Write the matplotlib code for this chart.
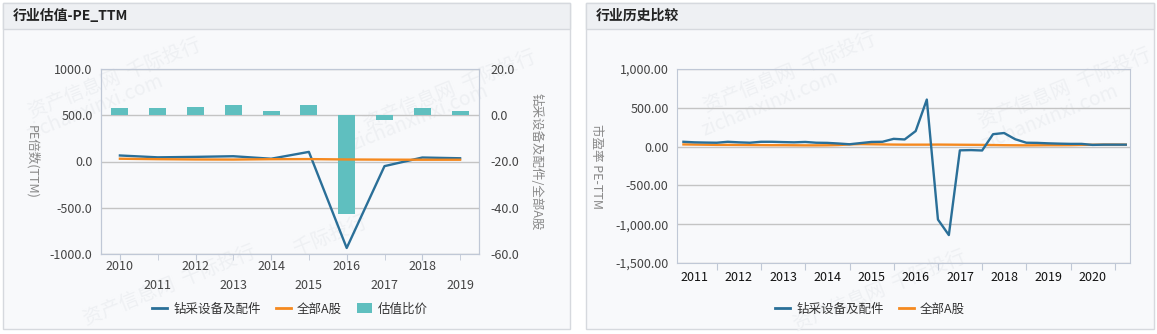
import numpy as np
import pandas as pd
import matplotlib
matplotlib.use("Agg")
import matplotlib.pyplot as plt
import matplotlib.dates as mdates
from matplotlib.patches import Rectangle
from matplotlib.lines import Line2D
from matplotlib.ticker import FuncFormatter

plt.rcParams['font.family'] = ['Noto Sans CJK SC', 'DejaVu Sans']

# 行业估值 (annual)
years = ["2010", "2011", "2012", "2013", "2014", "2015", "2016", "2017", "2018", "2019"]
pe_industry = [65, 45, 50, 57, 30, 104, -935, -50, 43, 35]
pe_all_a = [30, 25, 22, 21, 25, 26, 22, 20, 19, 19]
pe_ratio = [3.0, 3.0, 3.4, 4.3, 1.8, 4.3, -42.8, -2.2, 3.0, 1.8]

# 行业历史比较 (quarterly, 2011Q1 - 2021Q1)
quarters = pd.period_range("2011Q1", "2021Q1", freq="Q").to_timestamp(how="end").normalize()
hist_industry = [62, 55, 52, 50, 62, 55, 50, 62, 62, 58, 55, 60, 50, 48, 40, 30,
                 45, 60, 62, 100, 92, 200, 606, -940, -1140, -48, -45, -50, 160, 175,
                 95, 50, 48, 42, 38, 35, 35, 22, 25, 25, 25]
hist_all_a = [28, 26, 24, 22, 22, 21, 20, 19, 18, 18, 17, 16, 16, 17, 20, 28,
              32, 30, 28, 26, 25, 25, 25, 26, 25, 24, 23, 22, 20, 18,
              17, 16, 17, 18, 18, 19, 22, 24, 26, 26, 25]

BLUE = "#2a6f98"
ORANGE = "#f5891f"
TEAL = "#5fbfbf"
BODY = "#f8f9fb"
HEAD = "#eef0f3"
EDGE = "#d6d9de"
GRID = "#c4c4c4"
AXIS = "#c0c8d6"
TICK = "#444444"

W, H = 1157, 334
fig = plt.figure(figsize=(W / 100, H / 100), dpi=100, facecolor="white")


def px(x, y, w=0, h=0):
    # pixel box (top-left origin) -> figure fraction
    return (x / W, 1 - (y + h) / H, w / W, h / H)


def panel(x0, x1, title):
    fx, fy, fw, fh = px(x0, 3, x1 - x0, 326)
    fig.add_artist(Rectangle((fx, fy), fw, fh, transform=fig.transFigure,
                             facecolor=BODY, edgecolor=EDGE, lw=1, zorder=-10))
    hx, hy, hw, hh = px(x0, 3, x1 - x0, 26)
    fig.add_artist(Rectangle((hx, hy), hw, hh, transform=fig.transFigure,
                             facecolor=HEAD, edgecolor=EDGE, lw=1, zorder=-9))
    fig.text((x0 + 10) / W, 1 - 16 / H, title, fontsize=10, fontweight="bold",
             color="#222222", va="center", ha="left")


panel(3, 570, "行业估值-PE_TTM")
panel(586, 1154, "行业历史比较")

# faint watermark
wm = [(115, 78, "资产信息网  千际投行"), (95, 108, "zichanxinxi.com"),
      (450, 90, "资产信息网  千际投行"), (420, 118, "zichanxinxi.com"),
      (170, 285, "资产信息网  千际投行"),
      (790, 72, "资产信息网  千际投行"), (770, 104, "zichanxinxi.com"),
      (1065, 88, "资产信息网  千际投行"), (1050, 118, "zichanxinxi.com"),
      (880, 290, "资产信息网  千际投行"), (330, 235, "千际投行")]
for x, y, s in wm:
    fig.text(x / W, 1 - y / H, s, fontsize=14, color="#eef0f3", rotation=22,
             ha="center", va="center", zorder=-5)

# ---- left chart ----
ax2 = fig.add_axes(px(101, 69, 378, 185))
ax = ax2.twinx()
ax2.yaxis.tick_right()
ax.yaxis.tick_left()
ax2.yaxis.set_label_position("right")
ax.yaxis.set_label_position("left")
ax.set_zorder(ax2.get_zorder() + 1)
ax.patch.set_visible(False)
ax2.patch.set_visible(False)

x = np.arange(len(years))
ax2.bar(x, pe_ratio, width=0.45, color=TEAL, zorder=2)
ax2.set_ylim(-60, 20)
ax2.set_yticks([-60, -40, -20, 0, 20])
ax2.yaxis.set_major_formatter(FuncFormatter(lambda v, p: f"{v:.1f}"))
ax2.grid(axis="y", color=GRID, lw=1, zorder=0)
ax2.set_axisbelow(True)

ax.plot(x, pe_industry, color=BLUE, lw=1.7)
ax.plot(x, pe_all_a, color=ORANGE, lw=1.7)
ax.set_ylim(-1000, 1000)
ax.set_yticks([-1000, -500, 0, 500, 1000])
ax.yaxis.set_major_formatter(FuncFormatter(lambda v, p: f"{v:.1f}"))
ax.set_xlim(-0.5, 9.5)

ax2.set_xticks(x[::2])
ax2.set_xticklabels(years[::2])
ax2.set_xticks(x[1::2], minor=True)
ax2.set_xticklabels(years[1::2], minor=True)
ax2.tick_params(axis="x", which="both", length=4, color=AXIS, labelsize=9,
                labelcolor=TICK)
ax2.tick_params(axis="x", which="major", pad=0)
ax2.tick_params(axis="x", which="minor", pad=14)
ax.tick_params(axis="y", length=0, labelsize=9, labelcolor=TICK, pad=6)
ax2.tick_params(axis="y", length=0, labelsize=9, labelcolor=TICK, pad=8)
ax.set_ylabel("PE倍数(TTM)", rotation=-90, color="#888888", fontsize=9, labelpad=18,
              va="bottom")
ax2.set_ylabel("钻采设备及配件/全部A股", rotation=-90, color="#888888", fontsize=9,
               labelpad=8, va="bottom")
for a in (ax, ax2):
    for s in a.spines.values():
        s.set_color(AXIS)

handles = [Line2D([], [], color=BLUE, lw=2), Line2D([], [], color=ORANGE, lw=2),
           Rectangle((0, 0), 1, 1, facecolor=TEAL)]
fig.legend(handles, ["钻采设备及配件", "全部A股", "估值比价"], loc="center",
           bbox_to_anchor=(290 / W, 1 - 309 / H), ncol=3, frameon=False,
           fontsize=9, handlelength=1.2, handleheight=0.9, columnspacing=1.2,
           handletextpad=0.5, labelcolor="#333333")

# ---- right chart ----
bx = fig.add_axes(px(677, 69, 453, 194))
bx.patch.set_visible(False)
bx.plot(quarters, hist_industry, color=BLUE, lw=1.7, zorder=3)
bx.plot(quarters, hist_all_a, color=ORANGE, lw=1.7, zorder=2)
bx.set_ylim(-1500, 1000)
bx.set_yticks(np.arange(-1500, 1001, 500))
bx.yaxis.set_major_formatter(FuncFormatter(lambda v, p: f"{v:,.2f}"))
bx.set_xlim(pd.Timestamp("2011-02-06"), pd.Timestamp("2021-05-05"))
bx.xaxis.set_major_locator(mdates.YearLocator())
bx.xaxis.set_major_formatter(plt.NullFormatter())
bx.xaxis.set_minor_locator(mdates.MonthLocator(bymonth=7, bymonthday=1))
bx.xaxis.set_minor_formatter(mdates.DateFormatter("%Y"))
bx.tick_params(axis="x", which="major", length=5, color=AXIS)
bx.tick_params(axis="x", which="minor", length=0, labelsize=9, labelcolor="#111111",
               pad=6)
bx.tick_params(axis="y", length=0, labelsize=9, labelcolor=TICK, pad=6)
bx.grid(axis="y", color=GRID, lw=1, zorder=0)
bx.set_axisbelow(True)
for s in bx.spines.values():
    s.set_color(AXIS)
bx.set_ylabel("市盈率 PE-TTM", rotation=-90, color="#888888", fontsize=9,
              labelpad=18, va="bottom")

fig.legend(handles[:2], ["钻采设备及配件", "全部A股"], loc="center",
           bbox_to_anchor=(870 / W, 1 - 309 / H), ncol=2, frameon=False,
           fontsize=9, handlelength=1.2, columnspacing=1.2, handletextpad=0.5,
           labelcolor="#333333")

fig.savefig("out.png", dpi=100, facecolor="white")
